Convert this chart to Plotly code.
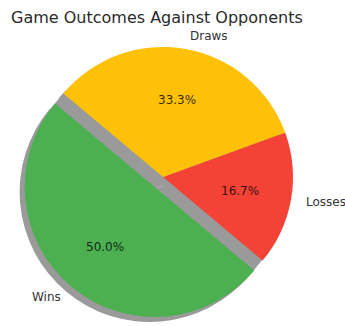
import numpy as np
import plotly.graph_objects as go

# Data
labels = ["Wins", "Losses", "Draws"]
values = [3, 1, 2]
colors = ["#4CAF50", "#F44336", "#FFC107"]
explode = [0.1, 0.0, 0.0]
title = "Game Outcomes Against Opponents"

# Layout geometry (pixels)
W, H = 345, 326
cx, cy = 163, 177          # pie centre in px (screen coordinates)
r = 130                    # pie radius in px
start_deg = 140            # start angle, counter-clockwise from +x
half = r * (1 + max(explode))
sh_dx, sh_dy = -5, 5       # shadow offset in px
shadow_col = "#9a9a9a"

vals = np.array(values, dtype=float)
fracs = vals / vals.sum()
starts = np.concatenate([[0], np.cumsum(fracs)[:-1]])
# plotly (counterclockwise) places the first slice ending at `rotation`
rotation = 90 - start_deg - 360 * fracs[0]

# explode vector of the pulled slice (for the shadow in the gap)
th0 = np.deg2rad(start_deg + 360 * (starts[0] + fracs[0] / 2))
ex_dx = explode[0] * r * np.cos(th0)
ex_dy = -explode[0] * r * np.sin(th0)


def dom(dx=0, dy=0, h=half):
    x0 = (cx + dx - h) / W
    x1 = (cx + dx + h) / W
    y0 = 1 - (cy + dy + h) / H
    y1 = 1 - (cy + dy - h) / H
    return dict(x=[x0, x1], y=[y0, y1])


fig = go.Figure()
# shadow filling the explode gap (unexploded, shifted along explode direction)
fig.add_trace(go.Pie(
    labels=labels, values=values, sort=False, direction="counterclockwise",
    rotation=rotation, domain=dom(ex_dx + sh_dx * 0.5, ex_dy + sh_dy * 0.5, r),
    marker=dict(colors=[shadow_col] * len(values), line=dict(width=0)),
    textinfo="none", hoverinfo="skip", showlegend=False,
))
# shadow
fig.add_trace(go.Pie(
    labels=labels, values=values, sort=False, direction="counterclockwise",
    rotation=rotation, pull=explode, domain=dom(sh_dx, sh_dy),
    marker=dict(colors=[shadow_col] * len(values), line=dict(width=0)),
    textinfo="none", hoverinfo="skip", showlegend=False,
))
# main pie
fig.add_trace(go.Pie(
    labels=labels, values=values, sort=False, direction="counterclockwise",
    rotation=rotation, pull=explode, domain=dom(),
    marker=dict(colors=colors, line=dict(width=0)),
    textinfo="none", showlegend=False,
))

# labels and percentages computed from the data
annotations = []
for lab, f, s, ex in zip(labels, fracs, starts, explode):
    th = np.deg2rad(start_deg + 360 * (s + f / 2))
    ux, uy = np.cos(th), -np.sin(th)
    ox, oy = cx + ex * r * ux, cy + ex * r * uy
    lx, ly = ox + 1.1 * r * ux, oy + 1.1 * r * uy
    px_, py_ = ox + 0.6 * r * ux, oy + 0.6 * r * uy
    annotations.append(dict(
        x=lx / W, y=1 - ly / H, xref="paper", yref="paper", text=lab,
        showarrow=False, xanchor="left" if ux > 0 else "right", yanchor="middle",
        font=dict(family="DejaVu Sans", size=12, color="#333333"),
    ))
    annotations.append(dict(
        x=px_ / W, y=1 - py_ / H, xref="paper", yref="paper",
        text=f"{f * 100:.1f}%", showarrow=False, xanchor="center", yanchor="middle",
        font=dict(family="DejaVu Sans", size=12, color="rgba(0,0,0,0.8)"),
    ))

annotations.append(dict(
    x=157 / W, y=1 - 17 / H, xref="paper", yref="paper", text=title,
    showarrow=False, xanchor="center", yanchor="middle",
    font=dict(family="DejaVu Sans", size=16, color="#2a2a2a"),
))

fig.update_layout(
    width=W, height=H, margin=dict(l=0, r=0, t=0, b=0),
    paper_bgcolor="white", plot_bgcolor="white",
    annotations=annotations,
)

fig.write_html("out.html")
